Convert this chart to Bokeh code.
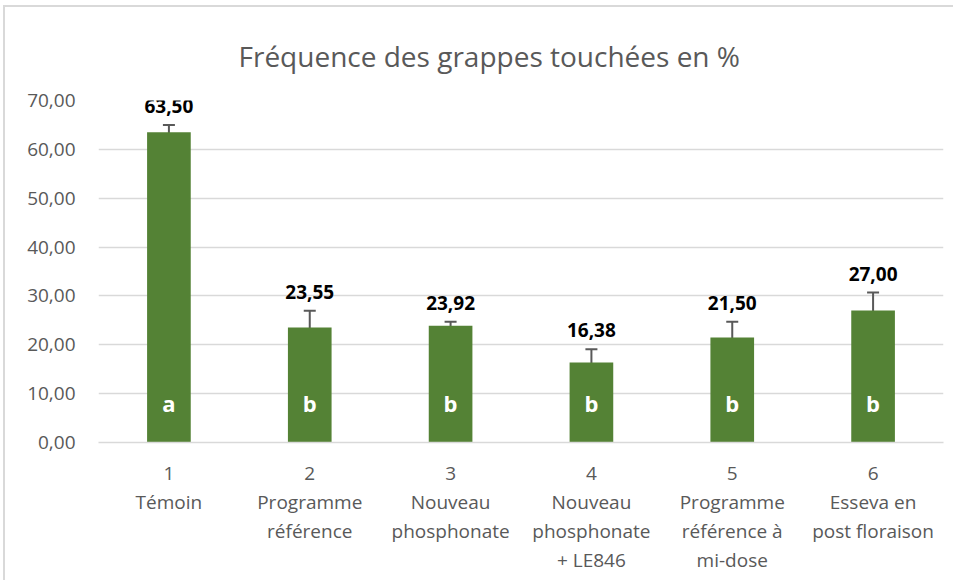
from bokeh.plotting import figure
from bokeh.models import ColumnDataSource, Range1d, FactorRange, Whisker, TeeHead, SingleIntervalTicker, CustomJSTickFormatter, LabelSet
from bokeh.core.properties import value
from bokeh.embed import file_html
from bokeh.resources import INLINE

categories = ["1\nTémoin", "2\nProgramme\nréférence", "3\nNouveau\nphosphonate",
              "4\nNouveau\nphosphonate\n+ LE846", "5\nProgramme\nréférence à\nmi-dose",
              "6\nEsseva en\npost floraison"]
values = [63.50, 23.55, 23.92, 16.38, 21.50, 27.00]
errors = [1.5, 3.4, 0.8, 2.7, 3.2, 3.7]
letters = ["a", "b", "b", "b", "b", "b"]
value_labels = ["63,50", "23,55", "23,92", "16,38", "21,50", "27,00"]

FONT = "Open Sans"
GREY = "#595959"

src = ColumnDataSource(dict(
    cat=categories, val=values,
    upper=[v + e for v, e in zip(values, errors)],
    lower=[v - e for v, e in zip(values, errors)],
    zero=[0] * len(values),
    letter=letters, lab=value_labels,
))

p = figure(x_range=FactorRange(*categories), y_range=Range1d(0, 70),
           width=950, height=575, output_backend="svg", toolbar_location=None,
           min_border_left=93, min_border_right=12, min_border_bottom=140, min_border_top=93,
           title="Fréquence des grappes touchées en %")
p.styles = {"border-left": "2px solid #d9d9d9", "border-top": "2px solid #d9d9d9",
            "margin-left": "3px", "margin-top": "5px"}

p.title.align = "left"
p.title.text_font = FONT
p.title.text_font_size = "28px"
p.title.text_font_style = "normal"
p.title.text_color = GREY
p.title.offset = 140
p.title.standoff = 52

p.vbar(x="cat", top="val", width=0.31, source=src, fill_color="#548235", line_color=None)

w = Whisker(base="cat", upper="upper", lower="lower", source=src,
            line_color=GREY, line_width=2,
            upper_head=TeeHead(size=12, line_color=GREY, line_width=2),
            lower_head=TeeHead(size=12, line_color=GREY, line_width=2))
p.add_layout(w)

p.add_layout(LabelSet(x="cat", y="upper", text="lab", source=src, text_align="center",
                      text_baseline="middle", y_offset=19, text_font=value(FONT),
                      text_font_size=value("19px"), text_font_style=value("bold"),
                      text_color=value("#000000")))
p.add_layout(LabelSet(x="cat", y="zero", text="letter", source=src, text_align="center",
                      text_baseline="middle", y_offset=40, text_font=value(FONT),
                      text_font_size=value("22px"), text_font_style=value("bold"),
                      text_color=value("#ffffff")))

p.outline_line_color = None
p.xgrid.grid_line_color = None
p.ygrid.grid_line_color = "#d9d9d9"
p.ygrid.grid_line_width = 1.5

p.yaxis.ticker = SingleIntervalTicker(interval=10)
p.yaxis.formatter = CustomJSTickFormatter(code="return tick.toFixed(2).replace('.', ',');")
p.yaxis.axis_line_color = None
p.yaxis.major_tick_line_color = None
p.yaxis.minor_tick_line_color = None
p.yaxis.major_label_text_font = FONT
p.yaxis.major_label_text_font_size = "19px"
p.yaxis.major_label_text_color = GREY
p.yaxis.major_label_standoff = 17

p.xaxis.axis_line_color = "#d9d9d9"
p.xaxis.axis_line_width = 1.5
p.xaxis.major_tick_line_color = None
p.xaxis.minor_tick_line_color = None
p.xaxis.major_label_text_font = FONT
p.xaxis.major_label_text_font_size = "19px"
p.xaxis.major_label_text_color = GREY
p.xaxis.major_label_standoff = 11
p.xaxis.major_label_text_line_height = 1.12

open("out.html", "w").write(file_html(p, INLINE))
